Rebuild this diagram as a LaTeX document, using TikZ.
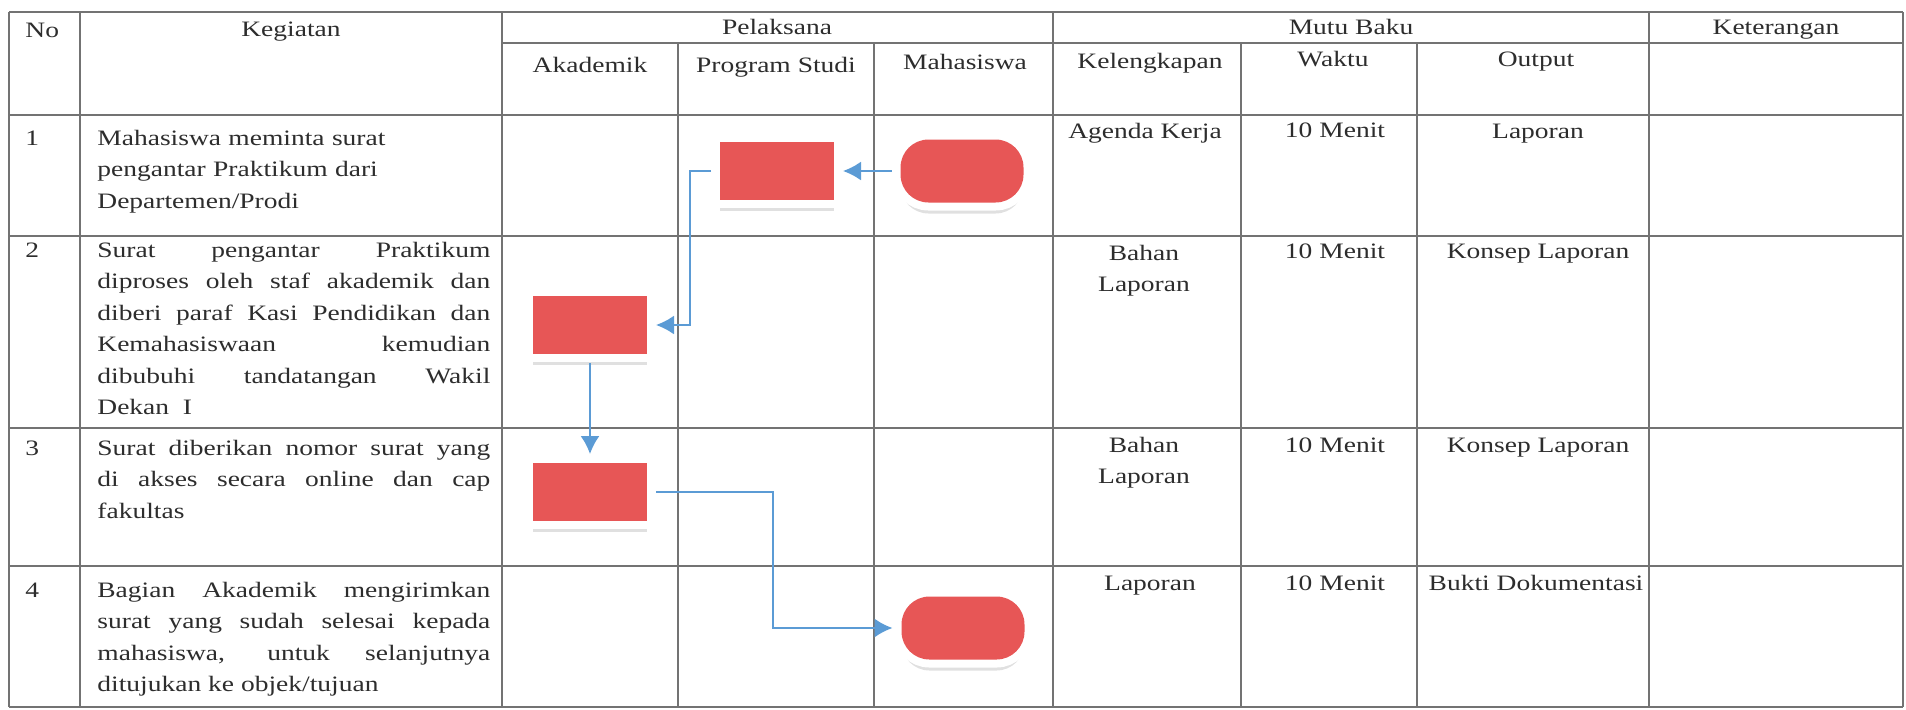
\documentclass[tikz,border=0pt]{standalone}
\usepackage{fontspec}
\setmainfont{Liberation Serif}[FakeStretch=1.25]
\usetikzlibrary{positioning,shadows,arrows.meta}
\definecolor{boxred}{RGB}{231,86,86}
\definecolor{flowblue}{RGB}{91,155,213}
\definecolor{ink}{RGB}{45,45,45}
\definecolor{rulegray}{RGB}{115,115,115}
\tikzstyle{proc} = [rectangle, fill=boxred, minimum width=57pt, minimum height=29pt, inner sep=0pt, outer sep=4.5pt,
  drop shadow={shadow xshift=0pt, shadow yshift=-5.5pt, opacity=0.12, fill=black}, preaction={draw=white, line width=8pt}]
\tikzstyle{term} = [proc, rounded corners=14pt, minimum width=61.5pt, minimum height=31.5pt]
\tikzstyle{line} = [draw, flowblue, line width=1pt, -{Latex[length=9pt,width=9.5pt]}]
\tikzstyle{grid} = [draw, rulegray, line width=0.7pt]
\tikzstyle{txt} = [anchor=base, inner sep=0pt, text=ink, font=\fontsize{11}{15.75}\selectfont]
\tikzstyle{para} = [txt, anchor=base west, text width=196.5pt, align=justify]

\begin{document}
\begin{tikzpicture}[x=0.5pt, y=-0.5pt]
	\useasboundingbox[fill=white] (0,0) rectangle (1906,709);
	% table rules
	\foreach \y in {12,115,236,428,566,707} \draw[grid] (9,\y) -- (1903,\y);
	\draw[grid] (502,43) -- (1903,43);
	\foreach \x in {9,80,502,1053,1649,1903} \draw[grid] (\x,12) -- (\x,707);
	\foreach \x in {678,874,1241,1417} \draw[grid] (\x,43) -- (\x,707);

	% header
	\node[txt, anchor=base west] (hno) at (25,37) {No};
	\node[txt] (hkeg) at (291,36) {Kegiatan};
	\node[txt] (hpel) at (777,34) {Pelaksana};
	\node[txt] (hmutu) at (1351,34) {Mutu Baku};
	\node[txt] (hket) at (1776,34) {Keterangan};
	\node[txt] (hakd) at (590,72) {Akademik};
	\node[txt] (hprodi) at (776,72) {Program Studi};
	\node[txt] (hmhs) at (965,69) {Mahasiswa};
	\node[txt] (hkel) at (1150,68) {Kelengkapan};
	\node[txt] (hwkt) at (1333,66) {Waktu};
	\node[txt] (hout) at (1536,66) {Output};

	% kegiatan
	\node[txt, anchor=base west] (no1) at (25,145) {1};
	\node[txt, anchor=base west] (no2) at (25,257) {2};
	\node[txt, anchor=base west] (no3) at (25,455) {3};
	\node[txt, anchor=base west] (no4) at (25,597) {4};
	\node[para, align=left] (keg1) at (97,145) {Mahasiswa meminta surat\\pengantar Praktikum dari\\Departemen/Prodi};
	\node[para] (keg2) at (97,257) {Surat pengantar Praktikum\linebreak diproses oleh staf akademik dan\linebreak diberi paraf Kasi Pendidikan dan\linebreak Kemahasiswaan kemudian\linebreak dibubuhi tandatangan Wakil\linebreak Dekan\ \ I};
	\node[para] (keg3) at (97,455) {Surat diberikan nomor surat yang\linebreak di akses secara online dan cap\linebreak fakultas};
	\node[para] (keg4) at (97,597) {Bagian Akademik mengirimkan\linebreak surat yang sudah selesai kepada\linebreak mahasiswa, untuk selanjutnya\linebreak ditujukan ke objek/tujuan};

	% mutu baku
	\node[txt] (kel1) at (1145,138) {Agenda Kerja};
	\node[txt] (wkt1) at (1335,137) {10 Menit};
	\node[txt] (out1) at (1538,138) {Laporan};
	\node[txt] (kel2a) at (1144,260) {Bahan};
	\node[txt] (kel2b) at (1144,291) {Laporan};
	\node[txt] (wkt2) at (1335,258) {10 Menit};
	\node[txt] (out2) at (1538,258) {Konsep Laporan};
	\node[txt] (kel3a) at (1144,452) {Bahan};
	\node[txt] (kel3b) at (1144,483) {Laporan};
	\node[txt] (wkt3) at (1335,452) {10 Menit};
	\node[txt] (out3) at (1538,452) {Konsep Laporan};
	\node[txt] (kel4) at (1150,590) {Laporan};
	\node[txt] (wkt4) at (1335,590) {10 Menit};
	\node[txt] (out4) at (1536,590) {Bukti Dokumentasi};

	% flow
	\node[term] (m1) at (962,171) {};
	\node[proc] (p1) at (777,171) {};
	\node[proc] (a1) at (590,325) {};
	\node[proc] (a2) at (590,492) {};
	\node[term] (m2) at (963,628) {};
	\coordinate (b1) at (690,250);
	\coordinate (b2) at (773,560);

	\path[line] (m1) -- (p1);
	\path[line] (p1) -| (b1) |- (a1);
	\path[line] (a1) -- (a2);
	\path[line] (a2) -| (b2) |- (m2);
\end{tikzpicture}
\end{document}
